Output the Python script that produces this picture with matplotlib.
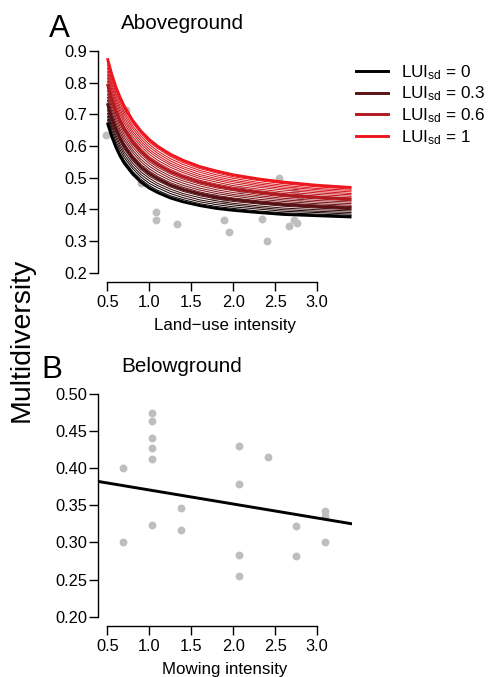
import matplotlib
matplotlib.use('Agg')
import matplotlib.pyplot as plt
from matplotlib.colors import LinearSegmentedColormap
from matplotlib.lines import Line2D

plt.rcParams['font.family'] = ['Liberation Sans', 'DejaVu Sans']
plt.rcParams['mathtext.fontset'] = 'custom'
plt.rcParams['mathtext.rm'] = 'Liberation Sans'
plt.rcParams['mathtext.it'] = 'Liberation Sans:italic'
plt.rcParams['mathtext.bf'] = 'Liberation Sans:bold'

# ---------------- data: panel A (aboveground) ----------------
above_x = [0.48, 0.53, 0.72, 0.906, 1.076, 1.076, 1.33, 1.77, 1.891, 1.90, 1.944,
           2.094, 2.345, 2.40, 2.548, 2.667, 2.72, 2.739, 2.757, 2.79]
above_y = [0.636, 0.665, 0.715, 0.482, 0.393, 0.366, 0.354, 0.440, 0.367, 0.430, 0.329,
           0.461, 0.369, 0.301, 0.500, 0.349, 0.366, 0.459, 0.358, 0.440]

curve_x = [0.5, 0.55, 0.6, 0.65, 0.7, 0.8, 0.9, 1.0, 1.1, 1.25, 1.4, 1.6, 1.8,
           2.0, 2.3, 2.6, 3.0, 3.41]
lui_sd_levels = [0.0, 0.05, 0.1, 0.15, 0.2, 0.25, 0.3, 0.35, 0.4, 0.45, 0.5,
                 0.55, 0.6, 0.65, 0.7, 0.75, 0.8, 0.85, 0.9, 0.95, 1.0]
curve_y = [
    [0.674, 0.631, 0.597, 0.569, 0.546, 0.512, 0.486, 0.467, 0.453, 0.436, 0.424, 0.412, 0.403, 0.397, 0.390, 0.384, 0.380, 0.376],
    [0.684, 0.641, 0.607, 0.578, 0.555, 0.520, 0.494, 0.475, 0.460, 0.443, 0.431, 0.418, 0.409, 0.403, 0.395, 0.389, 0.385, 0.381],
    [0.694, 0.651, 0.616, 0.588, 0.564, 0.529, 0.502, 0.482, 0.468, 0.450, 0.437, 0.424, 0.415, 0.408, 0.401, 0.394, 0.390, 0.385],
    [0.704, 0.661, 0.626, 0.597, 0.573, 0.537, 0.510, 0.490, 0.475, 0.457, 0.444, 0.430, 0.421, 0.414, 0.406, 0.399, 0.394, 0.390],
    [0.715, 0.670, 0.635, 0.606, 0.582, 0.546, 0.518, 0.498, 0.482, 0.464, 0.450, 0.437, 0.427, 0.419, 0.411, 0.404, 0.399, 0.395],
    [0.725, 0.680, 0.645, 0.615, 0.591, 0.554, 0.526, 0.505, 0.490, 0.471, 0.457, 0.443, 0.433, 0.425, 0.417, 0.410, 0.404, 0.399],
    [0.735, 0.690, 0.654, 0.625, 0.600, 0.563, 0.534, 0.513, 0.497, 0.477, 0.463, 0.449, 0.438, 0.431, 0.422, 0.415, 0.409, 0.404],
    [0.745, 0.700, 0.664, 0.634, 0.609, 0.571, 0.542, 0.521, 0.504, 0.484, 0.470, 0.455, 0.444, 0.436, 0.427, 0.420, 0.414, 0.409],
    [0.755, 0.710, 0.673, 0.643, 0.618, 0.580, 0.550, 0.528, 0.511, 0.491, 0.476, 0.461, 0.450, 0.442, 0.432, 0.425, 0.418, 0.413],
    [0.765, 0.720, 0.683, 0.652, 0.627, 0.588, 0.558, 0.536, 0.519, 0.498, 0.483, 0.467, 0.456, 0.447, 0.438, 0.430, 0.423, 0.418],
    [0.776, 0.730, 0.692, 0.662, 0.636, 0.597, 0.567, 0.544, 0.526, 0.505, 0.490, 0.474, 0.462, 0.453, 0.443, 0.435, 0.428, 0.423],
    [0.786, 0.739, 0.702, 0.671, 0.645, 0.605, 0.575, 0.551, 0.533, 0.512, 0.496, 0.480, 0.468, 0.459, 0.448, 0.440, 0.433, 0.427],
    [0.796, 0.749, 0.711, 0.680, 0.654, 0.613, 0.583, 0.559, 0.541, 0.519, 0.503, 0.486, 0.474, 0.464, 0.454, 0.445, 0.438, 0.432],
    [0.806, 0.759, 0.721, 0.689, 0.663, 0.622, 0.591, 0.566, 0.548, 0.526, 0.509, 0.492, 0.480, 0.470, 0.459, 0.450, 0.442, 0.436],
    [0.816, 0.769, 0.730, 0.699, 0.672, 0.630, 0.599, 0.574, 0.555, 0.533, 0.516, 0.498, 0.486, 0.475, 0.464, 0.455, 0.447, 0.441],
    [0.826, 0.779, 0.740, 0.708, 0.681, 0.639, 0.607, 0.582, 0.563, 0.540, 0.522, 0.504, 0.492, 0.481, 0.470, 0.461, 0.452, 0.446],
    [0.836, 0.789, 0.749, 0.717, 0.690, 0.647, 0.615, 0.589, 0.570, 0.546, 0.529, 0.510, 0.497, 0.487, 0.475, 0.466, 0.457, 0.450],
    [0.847, 0.798, 0.759, 0.726, 0.699, 0.656, 0.623, 0.597, 0.577, 0.553, 0.535, 0.517, 0.503, 0.492, 0.480, 0.471, 0.462, 0.455],
    [0.857, 0.808, 0.768, 0.736, 0.708, 0.664, 0.631, 0.605, 0.584, 0.560, 0.542, 0.523, 0.509, 0.498, 0.485, 0.476, 0.466, 0.460],
    [0.867, 0.818, 0.778, 0.745, 0.717, 0.673, 0.639, 0.612, 0.592, 0.567, 0.548, 0.529, 0.515, 0.503, 0.491, 0.481, 0.471, 0.464],
    [0.877, 0.828, 0.787, 0.754, 0.726, 0.681, 0.647, 0.620, 0.599, 0.574, 0.555, 0.535, 0.521, 0.509, 0.496, 0.486, 0.476, 0.469],
]
legend_levels = [0.0, 0.3, 0.6, 1.0]
legend_labels = [r'LUI$_{\mathrm{sd}}$ = 0', r'LUI$_{\mathrm{sd}}$ = 0.3',
                 r'LUI$_{\mathrm{sd}}$ = 0.6', r'LUI$_{\mathrm{sd}}$ = 1']

# ---------------- data: panel B (belowground) ----------------
below_x = [0.686, 0.686, 1.032, 1.032, 1.032, 1.032, 1.032, 1.032, 1.378, 1.378,
           2.063, 2.063, 2.063, 2.063, 2.413, 2.747, 2.747, 3.097, 3.097, 3.097]
below_y = [0.400, 0.301, 0.474, 0.463, 0.441, 0.427, 0.412, 0.323, 0.346, 0.316,
           0.430, 0.378, 0.283, 0.255, 0.415, 0.322, 0.281, 0.342, 0.336, 0.300]
below_line_x = [0.388, 3.412]
below_line_y = [0.382, 0.325]

x_ticks = [0.5, 1.0, 1.5, 2.0, 2.5, 3.0]
x_ticklabels = ['0.5', '1.0', '1.5', '2.0', '2.5', '3.0']
above_yticks = [0.2, 0.3, 0.4, 0.5, 0.6, 0.7, 0.8, 0.9]
above_yticklabels = ['0.2', '0.3', '0.4', '0.5', '0.6', '0.7', '0.8', '0.9']
below_yticks = [0.20, 0.25, 0.30, 0.35, 0.40, 0.45, 0.50]
below_yticklabels = ['0.20', '0.25', '0.30', '0.35', '0.40', '0.45', '0.50']

# ---------------- figure ----------------
W, H = 490, 677
fig = plt.figure(figsize=(W / 100, H / 100), dpi=100)
ax1 = fig.add_axes([98 / W, 1 - 281.6 / H, 253.7 / W, 239.5 / H])
ax2 = fig.add_axes([98 / W, 1 - 625.6 / H, 253.7 / W, 240.8 / H])

cmap = LinearSegmentedColormap.from_list(
    'lui', [(0.0, '#000000'), (0.3, '#5a1114'), (0.6, '#b01a20'), (1.0, '#EE161E')])
POINT_GREY = '#BEBEBE'
TICK_FS = 11.8
LABEL_FS = 12.2


def r_style(ax, yticks, yticklabels, ylim):
    ax.set_xlim(0.388, 3.412)
    ax.set_ylim(*ylim)
    for s in ['top', 'right']:
        ax.spines[s].set_visible(False)
    for s in ['left', 'bottom']:
        ax.spines[s].set_linewidth(1.0)
        ax.spines[s].set_color('black')
    ax.spines['left'].set_bounds(yticks[0], yticks[-1])
    ax.spines['bottom'].set_bounds(x_ticks[0], x_ticks[-1])
    ax.set_xticks(x_ticks)
    ax.set_xticklabels(x_ticklabels)
    ax.set_yticks(yticks)
    ax.set_yticklabels(yticklabels)
    ax.tick_params(axis='both', direction='out', length=6.5, width=1.0,
                   labelsize=TICK_FS, colors='black')
    ax.tick_params(axis='y', pad=1.5)
    ax.tick_params(axis='x', pad=3.5)
    ax.patch.set_visible(False)


# Panel A
ax1.scatter(above_x, above_y, s=32, color=POINT_GREY, linewidths=0, zorder=1)
for lvl, ys in zip(lui_sd_levels, curve_y):
    thick = any(abs(lvl - t) < 1e-9 for t in legend_levels)
    ax1.plot(curve_x, ys, color=cmap(lvl), lw=2.1 if thick else 0.75,
             zorder=3 if thick else 2, solid_capstyle='butt', solid_joinstyle='round')
r_style(ax1, above_yticks, above_yticklabels, (0.172, 0.928))
ax1.set_xlabel('Land\u2212use intensity', fontsize=LABEL_FS, labelpad=5.5)

handles = [Line2D([], [], color=cmap(l), lw=2.1) for l in legend_levels]
ax1.legend(handles, legend_labels, loc='upper left',
           bbox_to_anchor=(356 / W, 1 - 63 / H), bbox_transform=fig.transFigure,
           frameon=False, fontsize=12.3, handlelength=1.85, handletextpad=0.8,
           labelspacing=0.17, borderpad=0, borderaxespad=0)

# Panel B
ax2.scatter(below_x, below_y, s=32, color=POINT_GREY, linewidths=0, zorder=1)
ax2.plot(below_line_x, below_line_y, color='black', lw=2.1, zorder=2)
r_style(ax2, below_yticks, below_yticklabels, (0.188, 0.512))
ax2.set_xlabel('Mowing intensity', fontsize=LABEL_FS, labelpad=5.5)

# Titles and panel letters
fig.text(49 / W, 1 - 36.7 / H, 'A', fontsize=22.5, ha='left', va='baseline')
fig.text(121 / W, 1 - 29.3 / H, 'Aboveground', fontsize=14.9, ha='left', va='baseline')
fig.text(41 / W, 1 - 378.3 / H, 'B', fontsize=22.5, ha='left', va='baseline')
fig.text(121.5 / W, 1 - 371.7 / H, 'Belowground', fontsize=14.9, ha='left', va='baseline')
fig.text(22 / W, 1 - 340 / H, 'Multidiversity', fontsize=20.5, rotation=90,
         ha='center', va='center')

fig.savefig('out.png', dpi=100)
